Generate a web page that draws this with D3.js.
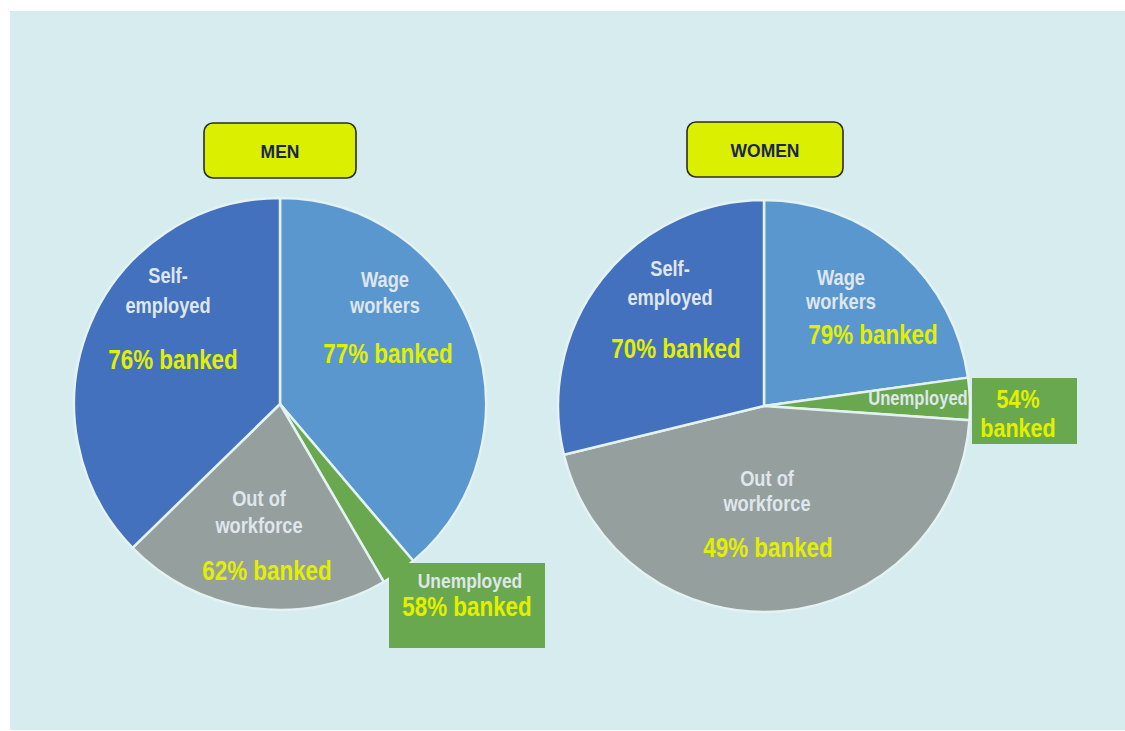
<html>
<script src="https://d3js.org/d3.v7.min.js"></script>
<style>
    body { margin: 0; background: #fff; }
    svg text { font-family: "Liberation Sans", Arial, sans-serif; font-weight: bold; text-anchor: middle; }
    .name { fill: #dfe6ec; font-size: 22px; }
    .banked { fill: #e2f000; font-size: 27px; }
    .title { fill: #1b2553; font-size: 19px; }
</style>
<svg width=1125 height=731></svg>
<script>
    // shares of each group (percent of pie)
    const categories = ['Wage workers', 'Unemployed', 'Out of workforce', 'Self-employed'];
    const groups = ['MEN', 'WOMEN'];
    const menShares = [38.8, 2.8, 21.1, 37.3];
    const womenShares = [22.8, 3.3, 45.1, 28.8];
    const menBanked = [77, 58, 62, 76];
    const womenBanked = [79, 54, 49, 70];

    const colors = d3.scaleOrdinal()
        .domain(categories)
        .range(['#5b97cf', '#6aa84f', '#959f9e', '#4371bd']);

    let svg = d3.select('svg');

    svg.append('rect')
        .attr('x', 10).attr('y', 11)
        .attr('width', 1115).attr('height', 719)
        .attr('fill', '#d6ecee');

    // narrow look: the original uses a condensed face
    let narrow = 0.83;
    let label = function(parent, cls, x, y, t, size, sx) {
        let el = parent.append('text')
            .attr('class', cls)
            .attr('transform', 'translate(' + x + ',' + y + ') scale(' + (sx || narrow) + ',1)')
            .text(t);
        if (size) el.style('font-size', size + 'px');
        return el;
    };

    // layout of each pie: centre, radius, title box, label offsets
    let layout = [
        {
            cx: 280, cy: 404, r: 206,
            box: [204, 123, 152, 55],
            names: [[105, -117, 26], null, [-21, 102, 27], [-112, -121, 30]],
            banked: [[108, -41], null, [-13, 176], [-107, -35]],
            callout: { rect: [389, 563, 156, 85], name: [470, 588], lines: [[467, 616]], single: true }
        },
        {
            cx: 764, cy: 406, r: 206,
            box: [687, 122, 156, 55],
            names: [[77, -121, 24], null, [3, 80, 25], [-94, -130, 29]],
            banked: [[109, -62], null, [4, 151], [-88, -48]],
            callout: { rect: [972, 378, 105, 66], name: [918, 405], lines: [[1018, 408], [1018, 437]], single: false }
        }
    ];

    let pie = d3.pie().sort(null).value(d => d);

    [menShares, womenShares].forEach(function(shares, gi) {
        let L = layout[gi];
        let banked = gi === 0 ? menBanked : womenBanked;
        let arc = d3.arc().innerRadius(0).outerRadius(L.r);

        let g = svg.append('g')
            .attr('transform', 'translate(' + L.cx + ',' + L.cy + ')');

        g.selectAll('path')
            .data(pie(shares))
            .enter()
            .append('path')
            .attr('d', arc)
            .attr('fill', (d, i) => colors(categories[i]))
            .attr('stroke', '#e4f2f3')
            .attr('stroke-width', 2.5)
            .attr('stroke-linejoin', 'round');

        // title box
        svg.append('rect')
            .attr('x', L.box[0]).attr('y', L.box[1])
            .attr('width', L.box[2]).attr('height', L.box[3])
            .attr('rx', 9)
            .attr('fill', '#daf000')
            .attr('stroke', '#2c2c1c')
            .attr('stroke-width', 1.6);
        label(svg, 'title', L.box[0] + L.box[2] / 2, L.box[1] + L.box[3] / 2 + 7, groups[gi], null, 0.92);

        categories.forEach(function(c, i) {
            if (!L.names[i]) return;
            let n = L.names[i];
            let words = c === 'Self-employed' ? ['Self-', 'employed'] : c === 'Wage workers' ? ['Wage', 'workers'] : ['Out of', 'workforce'];
            words.forEach(function(w, k) {
                label(g, 'name', n[0], n[1] + k * n[2], w);
            });
            label(g, 'banked', L.banked[i][0], L.banked[i][1], banked[i] + '% banked');
        });

        // unemployed callout
        let co = L.callout;
        svg.append('rect')
            .attr('x', co.rect[0]).attr('y', co.rect[1])
            .attr('width', co.rect[2]).attr('height', co.rect[3])
            .attr('fill', colors('Unemployed'));
        label(svg, 'name', co.name[0], co.name[1], 'Unemployed', co.single ? 21 : 20);
        let txt = co.single ? [banked[1] + '% banked'] : [banked[1] + '%', 'banked'];
        txt.forEach(function(t, k) {
            label(svg, 'banked', co.lines[k][0], co.lines[k][1], t, co.single ? 27 : 26);
        });
    });
</script>
</html>
